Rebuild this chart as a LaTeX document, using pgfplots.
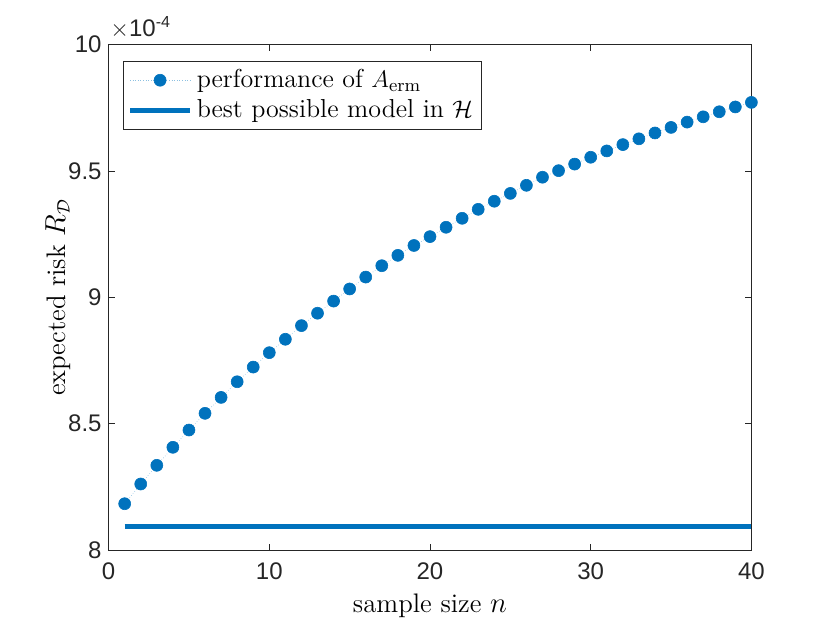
\documentclass[border=0pt]{standalone}
\usepackage{fontspec}
\usepackage{pgfplots}
\pgfplotsset{compat=1.18}
\newfontfamily\ticksf{Liberation Sans}
\definecolor{mblue}{rgb}{0,0.447,0.741}
\definecolor{axgray}{rgb}{0.15,0.15,0.15}
\begin{document}
\begin{tikzpicture}[x=0.5pt,y=0.5pt]
\begin{axis}[
  at={(54.3pt,36.45pt)}, anchor=south west,
  scale only axis, width=321.4pt, height=252.8pt,
  xmin=0, xmax=40, ymin=8, ymax=10,
  xtick={0,10,20,30,40}, ytick={8,8.5,9,9.5,10},
  axis line style={axgray, line width=0.4pt},
  tick style={axgray, line width=0.4pt},
  major tick length=3.2pt,
  tick align=inside,
  /pgf/number format/assume math mode=true,
  tick label style={font=\ticksf\fontsize{12}{14}\selectfont, text=axgray},
  xticklabel style={yshift=-3pt},
  label style={font=\fontsize{13.4}{16}\selectfont},
  xlabel={sample size $n$},
  ylabel={expected risk $R_{\mathcal{D}}$},
  xlabel style={yshift=0pt},
  ylabel style={yshift=-8pt},
  legend style={at={(0.0224,0.967)}, anchor=north west, draw=axgray, line width=0.4pt,
    font=\fontsize{13}{15.5}\selectfont, inner sep=2pt, row sep=0.5pt, cells={anchor=west}},
  legend image code/.code={\draw[mark repeat=2,mark phase=2,#1] plot coordinates {(0pt,0pt)(15pt,0pt)(30pt,0pt)};},
]
\addplot[mblue!45, densely dotted, line width=0.3pt, mark=*, mark size=3pt,
  mark options={solid, fill=mblue, draw=mblue}] coordinates {
(1,8.1835)(2,8.2615)(3,8.3354)(4,8.4066)(5,8.475)(6,8.541)(7,8.604)(8,8.666)
(9,8.724)(10,8.781)(11,8.834)(12,8.888)(13,8.937)(14,8.985)(15,9.033)
(16,9.080)(17,9.125)(18,9.166)(19,9.205)(20,9.240)(21,9.277)(22,9.3125)
(23,9.348)(24,9.380)(25,9.411)(26,9.443)(27,9.475)(28,9.501)(29,9.527)
(30,9.554)(31,9.579)(32,9.604)(33,9.627)(34,9.650)(35,9.672)(36,9.693)
(37,9.714)(38,9.734)(39,9.753)(40,9.771)};
\addlegendentry{performance of $A_{\mathrm{erm}}$}
\addplot[mblue, line width=2.7pt] coordinates {(1,8.094)(40,8.094)};
\addlegendentry{best possible model in $\mathcal{H}$}
\end{axis}
\node[anchor=base west, inner sep=0pt, text=axgray, font=\ticksf\fontsize{12}{14}\selectfont] at (110,587) {$\times$10\textsuperscript{-4}};
\pgfresetboundingbox
\useasboundingbox (0,0) rectangle (830,623);
\end{tikzpicture}
\end{document}
